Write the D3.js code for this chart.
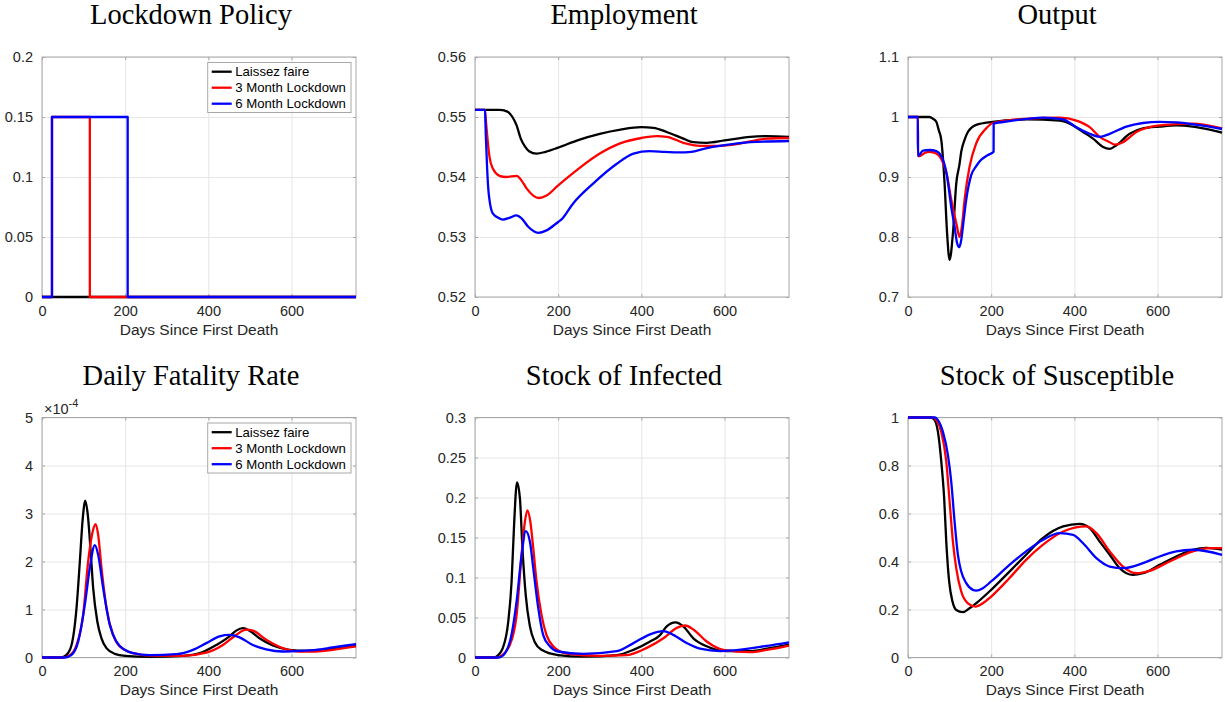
<!DOCTYPE html>
<html>
<head>
<meta charset="utf-8">
<script src="https://cdn.jsdelivr.net/npm/d3@7"></script>
<style>
  body { margin: 0; background: #fff; }
  svg { display: block; }
</style>
</head>
<body>
<svg id="fig" width="1225" height="702"></svg>
<script>
// ---- data: [day, value] ----
var seriesNames = ['Laissez faire', '3 Month Lockdown', '6 Month Lockdown'];
var seriesColors = ['#000000', '#ff0000', '#0000ff'];
var xTicks = [0, 200, 400, 600];

var policyLF = [[0,0],[755,0]];
var policy3M = [[0,0],[24,0],[24,0.15],[115,0.15],[115,0],[755,0]];
var policy6M = [[0,0],[24,0],[24,0.15],[206,0.15],[206,0],[755,0]];

var employmentLF = [[0,0.5512],[60,0.5512],[70,0.5511],[80,0.5508],[90,0.55],[100,0.5486],[110,0.5464],[120,0.5451],[130,0.5443],[148,0.5439],[170,0.5442],[200,0.5449],[250,0.5462],[300,0.5472],[350,0.5479],[400,0.5483],[429,0.5482],[461,0.5475],[501,0.5464],[525,0.5458],[557,0.5457],[600,0.5461],[662,0.5467],[702,0.5468],[755,0.5467]];
var employment3M = [[0,0.5512],[24,0.5512],[26,0.5495],[29,0.5472],[32,0.545],[35,0.5433],[43,0.5414],[59,0.5402],[75,0.54],[100,0.5402],[112,0.5394],[124,0.5381],[140,0.5369],[154,0.5365],[172,0.5369],[200,0.5386],[244,0.5411],[300,0.5439],[349,0.5456],[400,0.5465],[437,0.5468],[461,0.5467],[501,0.5457],[541,0.5452],[582,0.5452],[622,0.5454],[702,0.5464],[755,0.5465]];
var employment6M = [[0,0.5512],[24,0.5512],[26,0.547],[29,0.5417],[32,0.538],[35,0.5361],[43,0.5339],[59,0.5331],[67,0.5329],[83,0.5332],[100,0.5336],[112,0.5331],[128,0.5317],[152,0.5307],[172,0.5311],[200,0.5325],[206,0.5328],[236,0.5356],[284,0.5389],[341,0.5422],[381,0.5439],[420,0.5443],[455,0.5442],[490,0.5441],[520,0.5442],[550,0.5447],[600,0.5453],[662,0.5458],[755,0.546]];

var outputLF = [[0,1],[52,1],[60,0.997],[68,0.992],[74,0.978],[80,0.962],[88,0.889],[94,0.806],[100,0.762],[108,0.806],[116,0.889],[124,0.922],[128,0.942],[136,0.962],[144,0.975],[164,0.987],[204,0.992],[284,0.996],[365,0.994],[397,0.986],[421,0.975],[445,0.964],[469,0.95],[485,0.947],[501,0.953],[533,0.972],[565,0.981],[605,0.984],[645,0.986],[685,0.984],[725,0.979],[755,0.974]];
var output3M = [[0,1],[23.8,1],[24,0.935],[28,0.935],[40,0.94],[52,0.942],[68,0.939],[80,0.93],[93,0.905],[104,0.862],[117,0.82],[124,0.8],[130,0.82],[136,0.862],[148,0.917],[164,0.956],[188,0.981],[204,0.99],[284,0.997],[365,0.999],[405,0.994],[437,0.983],[461,0.967],[485,0.958],[497,0.954],[517,0.958],[549,0.975],[605,0.986],[685,0.989],[755,0.981]];
var output6M = [[0,1],[23.8,1],[24,0.935],[36,0.944],[52,0.945],[68,0.943],[80,0.935],[93,0.905],[104,0.85],[112,0.817],[118,0.79],[123,0.783],[128,0.795],[132,0.817],[140,0.862],[152,0.903],[164,0.918],[172,0.926],[184,0.933],[196,0.938],[205.8,0.942],[206,0.989],[244,0.993],[324,0.999],[373,0.996],[405,0.983],[437,0.972],[461,0.967],[485,0.972],[525,0.984],[565,0.99],[605,0.992],[645,0.991],[755,0.98]];

// fatality values in units of 1e-4
var fatalityLF = [[0,0],[45,0],[59,0.056],[71,0.26],[83,1.03],[91,2.0],[98,2.9],[104,3.27],[110,2.98],[117,2.21],[123,1.45],[133,0.75],[143,0.4],[155,0.195],[175,0.077],[200,0.035],[259,0.015],[339,0.035],[379,0.09],[419,0.26],[451,0.44],[467,0.56],[483,0.61],[499,0.56],[523,0.4],[555,0.25],[595,0.16],[635,0.14],[675,0.16],[715,0.195],[755,0.24]];
var fatality3M = [[0,0],[50,0],[67,0.05],[83,0.26],[99,0.89],[111,2.0],[122,2.63],[129,2.78],[135,2.56],[143,1.87],[155,1.03],[171,0.47],[187,0.23],[219,0.09],[259,0.04],[339,0.035],[395,0.1],[435,0.26],[467,0.47],[491,0.58],[507,0.56],[539,0.37],[579,0.195],[619,0.125],[659,0.125],[699,0.16],[755,0.23]];
var fatality6M = [[0,0],[55,0],[71,0.056],[87,0.33],[103,1.1],[115,1.87],[127,2.34],[135,2.14],[147,1.45],[163,0.68],[179,0.33],[199,0.16],[219,0.09],[259,0.05],[323,0.07],[363,0.16],[395,0.3],[427,0.44],[451,0.47],[475,0.42],[507,0.26],[539,0.17],[579,0.125],[619,0.14],[659,0.16],[699,0.21],[755,0.28]];

var infectedLF = [[0,0],[45,0],[51,0.001],[67,0.012],[80,0.045],[88,0.095],[94,0.166],[101,0.219],[108,0.199],[114,0.137],[122,0.078],[132,0.039],[144,0.019],[160,0.0096],[200,0.003],[260,0.001],[341,0.003],[381,0.0096],[421,0.02],[445,0.028],[461,0.039],[482,0.044],[501,0.039],[525,0.024],[557,0.014],[602,0.008],[662,0.008],[702,0.011],[755,0.016]];
var infected3M = [[0,0],[50,0],[59,0.001],[84,0.016],[100,0.053],[112,0.128],[120,0.17],[126,0.184],[133,0.17],[140,0.137],[148,0.095],[160,0.053],[172,0.028],[188,0.014],[220,0.005],[300,0.002],[365,0.003],[413,0.012],[453,0.024],[485,0.037],[505,0.04],[525,0.035],[557,0.02],[597,0.0096],[662,0.0067],[702,0.0096],[755,0.015]];
var infected6M = [[0,0],[55,0],[63,0.001],[84,0.02],[100,0.07],[112,0.128],[122,0.158],[132,0.145],[140,0.112],[152,0.062],[164,0.028],[180,0.014],[200,0.0075],[260,0.0046],[341,0.008],[381,0.018],[421,0.029],[453,0.033],[478,0.028],[509,0.018],[541,0.011],[590,0.008],[622,0.009],[702,0.0146],[755,0.019]];

var suscLF = [[0,1],[55,1],[64,0.989],[72,0.94],[80,0.817],[87,0.663],[92,0.483],[99,0.316],[107,0.233],[116,0.198],[132,0.189],[148,0.205],[164,0.226],[200,0.282],[244,0.358],[284,0.428],[324,0.497],[373,0.546],[413,0.557],[437,0.539],[461,0.483],[485,0.428],[509,0.372],[541,0.344],[565,0.351],[605,0.386],[645,0.421],[685,0.449],[717,0.457],[755,0.449]];
var susc3M = [[0,1],[60,1],[68,0.989],[80,0.94],[92,0.817],[100,0.65],[108,0.483],[116,0.372],[128,0.275],[144,0.226],[163,0.212],[180,0.226],[200,0.254],[244,0.331],[284,0.407],[324,0.469],[373,0.525],[429,0.546],[453,0.518],[485,0.442],[517,0.379],[549,0.351],[581,0.361],[629,0.4],[685,0.442],[725,0.456],[755,0.456]];
var susc6M = [[0,1],[65,1],[72,0.989],[84,0.94],[96,0.843],[104,0.732],[112,0.566],[120,0.428],[128,0.358],[140,0.31],[156,0.282],[164,0.279],[180,0.289],[200,0.317],[244,0.386],[284,0.442],[324,0.49],[365,0.518],[397,0.511],[421,0.476],[453,0.414],[485,0.379],[517,0.372],[565,0.393],[605,0.421],[645,0.442],[685,0.449],[755,0.428]];

var policyTicks = [0, 0.05, 0.1, 0.15, 0.2];
var employmentTicks = [0.52, 0.53, 0.54, 0.55, 0.56];
var outputTicks = [0.7, 0.8, 0.9, 1, 1.1];
var fatalityTicks = [0, 1, 2, 3, 4, 5];
var infectedTicks = [0, 0.05, 0.1, 0.15, 0.2, 0.25, 0.3];
var suscTicks = [0, 0.2, 0.4, 0.6, 0.8, 1];

// ---- layout ----
var W = 314, H = 240;
var cols = [42, 475, 908];
var rows = [57, 417.5];

var panels = [
  {title: 'Lockdown Policy', col: 0, row: 0, ticks: policyTicks, series: [policyLF, policy3M, policy6M], curve: d3.curveLinear, legend: true},
  {title: 'Employment', col: 1, row: 0, ticks: employmentTicks, series: [employmentLF, employment3M, employment6M]},
  {title: 'Output', col: 2, row: 0, ticks: outputTicks, series: [outputLF, output3M, output6M]},
  {title: 'Daily Fatality Rate', col: 0, row: 1, ticks: fatalityTicks, series: [fatalityLF, fatality3M, fatality6M], legend: true, exponent: '-4'},
  {title: 'Stock of Infected', col: 1, row: 1, ticks: infectedTicks, series: [infectedLF, infected3M, infected6M]},
  {title: 'Stock of Susceptible', col: 2, row: 1, ticks: suscTicks, series: [suscLF, susc3M, susc6M]}
];

var svg = d3.select('#fig');
svg.append('rect').attr('width', 1225).attr('height', 702).attr('fill', '#fff');

var fmt = function(d) { return String(+d.toFixed(3)); };
var sans = '"Liberation Sans", Arial, sans-serif';

panels.forEach(function(p) {
  var left = cols[p.col], top = rows[p.row];
  var x = d3.scaleLinear().domain([0, 755]).range([0, W]);
  var y = d3.scaleLinear().domain(d3.extent(p.ticks)).range([H, 0]);

  var g = svg.append('g').attr('transform', 'translate(' + left + ',' + top + ')');

  // grid
  g.append('g')
    .call(d3.axisBottom(x).tickValues(xTicks).tickSize(H).tickFormat(''))
    .call(function(s) { s.select('.domain').remove(); })
    .selectAll('line').attr('stroke', '#e6e6e6');
  g.append('g')
    .call(d3.axisLeft(y).tickValues(p.ticks).tickSize(-W).tickFormat(''))
    .call(function(s) { s.select('.domain').remove(); })
    .selectAll('line').attr('stroke', '#e6e6e6');

  // box
  g.append('rect').attr('width', W).attr('height', H)
    .attr('fill', 'none').attr('stroke', '#a8a8a8').attr('stroke-width', 1);

  // axes with inward ticks
  var xa = g.append('g').attr('transform', 'translate(0,' + H + ')')
    .call(d3.axisBottom(x).tickValues(xTicks).tickSize(-3).tickPadding(8));
  var ya = g.append('g')
    .call(d3.axisLeft(y).tickValues(p.ticks).tickFormat(fmt).tickSize(-3).tickPadding(9));
  g.append('g').call(d3.axisTop(x).tickValues(xTicks).tickSize(-3).tickFormat(''));
  g.append('g').attr('transform', 'translate(' + W + ',0)')
    .call(d3.axisRight(y).tickValues(p.ticks).tickSize(-3).tickFormat(''));
  g.selectAll('.domain').remove();
  g.selectAll('.tick line').filter(function() { return d3.select(this).attr('stroke') !== '#e6e6e6'; })
    .attr('stroke', '#a8a8a8');
  [xa, ya].forEach(function(a) {
    a.selectAll('text').attr('fill', '#262626')
      .style('font-family', sans).style('font-size', '14.5px');
  });
  xa.selectAll('text').attr('dy', null).attr('y', 18.5);

  // lines
  var line = d3.line()
    .x(function(d) { return x(d[0]); })
    .y(function(d) { return y(d[1]); })
    .curve(p.curve || d3.curveMonotoneX);
  p.series.forEach(function(s, i) {
    g.append('path')
      .datum(s)
      .attr('d', line)
      .attr('fill', 'none')
      .attr('stroke', seriesColors[i])
      .attr('stroke-width', 2.3)
      .attr('stroke-linejoin', 'round');
  });

  // title
  g.append('text')
    .attr('x', W / 2 - 8).attr('y', -33)
    .attr('text-anchor', 'middle')
    .style('font-family', '"Liberation Serif", "Times New Roman", serif')
    .style('font-size', '28.5px')
    .attr('fill', '#000')
    .text(p.title);

  // x label
  g.append('text')
    .attr('x', W / 2).attr('y', H + 37.5)
    .attr('text-anchor', 'middle')
    .style('font-family', sans)
    .style('font-size', '15.5px')
    .attr('fill', '#262626')
    .text('Days Since First Death');

  if (p.exponent) {
    var ex = g.append('text').attr('x', 2).attr('y', -3.5)
      .style('font-family', sans)
      .style('font-size', '14.5px').attr('fill', '#262626');
    ex.append('tspan').text('\u00d710');
    ex.append('tspan').attr('dy', -7).style('font-size', '11px').text(p.exponent);
  }

  if (p.legend) {
    var lw = 143.3, lx = W - 5 - lw, ly = 5.5;
    var lg = g.append('g').attr('transform', 'translate(' + lx + ',' + ly + ')');
    lg.append('rect').attr('width', lw).attr('height', 50)
      .attr('fill', '#fff').attr('stroke', '#a8a8a8').attr('stroke-width', 1);
    seriesNames.forEach(function(name, i) {
      var ry = 9.2 + i * 16;
      lg.append('line').attr('x1', 4).attr('x2', 24).attr('y1', ry).attr('y2', ry)
        .attr('stroke', seriesColors[i]).attr('stroke-width', 2.3);
      lg.append('text').attr('x', 27.5).attr('y', ry).attr('dy', '0.35em')
        .style('font-family', sans)
        .style('font-size', '13.2px').attr('fill', '#000')
        .text(name);
    });
  }
});
</script>
</body>
</html>
